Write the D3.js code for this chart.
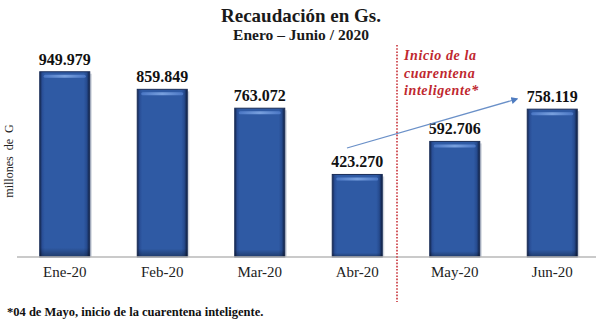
<!DOCTYPE html>
<html>
<head>
<meta charset="utf-8">
<script src="https://cdn.jsdelivr.net/npm/d3@7"></script>
<style>
  html, body { margin: 0; padding: 0; background: #fff; }
  svg { display: block; }
  text { font-family: "Liberation Serif", "Times New Roman", serif; }
</style>
</head>
<body>
<svg id="chart" width="600" height="328"></svg>
<script>
const categories = ["Ene-20", "Feb-20", "Mar-20", "Abr-20", "May-20", "Jun-20"];
const values = [949979, 859849, 763072, 423270, 592706, 758119];
const title = "Recaudación en Gs.";
const subtitle = "Enero – Junio / 2020";
const yAxisLabel = "millones de G";
const noteLines = ["Inicio de la", "cuarentena", "inteligente*"];
const footnote = "*04 de Mayo, inicio de la cuarentena inteligente.";

const svg = d3.select("#chart");
const baseY = 257;

const x = d3.scaleBand().domain(categories).range([16, 601])
  .paddingInner(0.487).paddingOuter(0.2435);
const y = d3.scaleLinear().domain([0, 1000000]).range([baseY, 62]);

const loc = d3.formatLocale({decimal: ",", thousands: ".", grouping: [3], currency: ["", ""]});
const fmt = loc.format(",d");

const defs = svg.append("defs");
const g = defs.append("linearGradient").attr("id", "barGrad").attr("x1", "0").attr("x2", "1").attr("y1", "0").attr("y2", "0");
[[0, "#142650"], [0.05, "#294e96"], [0.1, "#2f5aa4"], [0.88, "#2f5aa4"], [0.94, "#264b8f"], [1, "#0f1e3f"]]
  .forEach(([o, c]) => g.append("stop").attr("offset", o).attr("stop-color", c));
const gv = defs.append("linearGradient").attr("id", "barShade").attr("x1", "0").attr("x2", "0").attr("y1", "0").attr("y2", "1");
[[0, "#000", 0], [0.95, "#000", 0], [1, "#000", 0.35]]
  .forEach(([o, c, a]) => gv.append("stop").attr("offset", o).attr("stop-color", c).attr("stop-opacity", a));
const hl = defs.append("linearGradient").attr("id", "hlGrad").attr("x1", "0").attr("x2", "1");
[[0, "#4a76c4"], [0.5, "#78a0de"], [1, "#4a76c4"]]
  .forEach(([o, c]) => hl.append("stop").attr("offset", o).attr("stop-color", c));
const mk = defs.append("marker").attr("id", "arrow").attr("viewBox", "0 0 10 10")
  .attr("refX", 8).attr("refY", 5).attr("markerWidth", 7).attr("markerHeight", 7)
  .attr("orient", "auto").attr("markerUnits", "userSpaceOnUse");
mk.append("path").attr("d", "M0,0 L10,5 L0,10 z").attr("fill", "#4f7cc0");

// Title
svg.append("text").attr("x", 301).attr("y", 22).attr("text-anchor", "middle")
  .attr("font-weight", "bold").attr("font-size", 19).attr("fill", "#1a1a1a").text(title);
svg.append("text").attr("x", 301).attr("y", 40).attr("text-anchor", "middle")
  .attr("font-weight", "bold").attr("font-size", 15.5).attr("fill", "#1a1a1a").text(subtitle);

// Y axis label
svg.append("text").attr("transform", "translate(13,161) rotate(-90)")
  .attr("text-anchor", "middle").attr("font-size", 12).attr("word-spacing", 3)
  .attr("fill", "#222").text(yAxisLabel);

// Bars
const bars = svg.append("g").selectAll("g").data(categories).join("g");
bars.append("rect").attr("x", d => x(d) + 2).attr("y", (d, i) => y(values[i]) + 2)
  .attr("width", x.bandwidth()).attr("height", (d, i) => baseY - y(values[i]) - 2)
  .attr("fill", "#9aa3b5").attr("opacity", 0.45);
bars.append("rect").attr("x", d => x(d)).attr("y", (d, i) => y(values[i]))
  .attr("width", x.bandwidth()).attr("height", (d, i) => baseY - y(values[i]))
  .attr("fill", "url(#barGrad)").attr("stroke", "#1b2e58").attr("stroke-width", 1);
bars.append("rect").attr("x", d => x(d)).attr("y", (d, i) => y(values[i]))
  .attr("width", x.bandwidth()).attr("height", (d, i) => baseY - y(values[i]))
  .attr("fill", "url(#barShade)");
bars.append("rect").attr("x", d => x(d) + 4).attr("y", (d, i) => y(values[i]) + 3)
  .attr("width", x.bandwidth() - 8).attr("height", 3).attr("rx", 1.5)
  .attr("fill", "url(#hlGrad)");

// Value labels
svg.append("g").selectAll("text").data(categories).join("text")
  .attr("x", d => x(d) + x.bandwidth() / 2)
  .attr("y", (d, i) => y(values[i]) - 7)
  .attr("text-anchor", "middle").attr("font-weight", "bold").attr("font-size", 16)
  .attr("fill", "#111").text((d, i) => fmt(values[i]));

// X axis
const xAxis = svg.append("g").attr("transform", `translate(0,${baseY})`)
  .call(d3.axisBottom(x).tickSize(0).tickPadding(9));
xAxis.select(".domain").attr("stroke", "#b8b8b8").attr("stroke-width", 1.5)
  .attr("d", "M17,0H596");
xAxis.selectAll("text").attr("font-family", "Liberation Serif, Times New Roman, serif")
  .attr("font-size", 15).attr("fill", "#222").attr("dy", "0.71em");

// Red dotted separator
svg.append("line").attr("x1", 397).attr("x2", 397).attr("y1", 45).attr("y2", 302)
  .attr("stroke", "#c8323a").attr("stroke-width", 1.6).attr("stroke-dasharray", "1.6,1.6");

// Red note
svg.append("g").selectAll("text").data(noteLines).join("text")
  .attr("x", 404).attr("y", (d, i) => 60 + i * 17.5)
  .attr("font-weight", "bold").attr("font-style", "italic").attr("font-size", 14)
  .attr("letter-spacing", 0.6).attr("fill", "#c0282f").text(d => d);

// Trend arrow
svg.append("line").attr("x1", 347).attr("y1", 148).attr("x2", 517).attr("y2", 99)
  .attr("stroke", "#6a90c8").attr("stroke-width", 1.3).attr("marker-end", "url(#arrow)");

// Footnote
svg.append("text").attr("x", 7).attr("y", 316).attr("font-weight", "bold")
  .attr("font-size", 12.5).attr("fill", "#111").text(footnote);
</script>
</body>
</html>
